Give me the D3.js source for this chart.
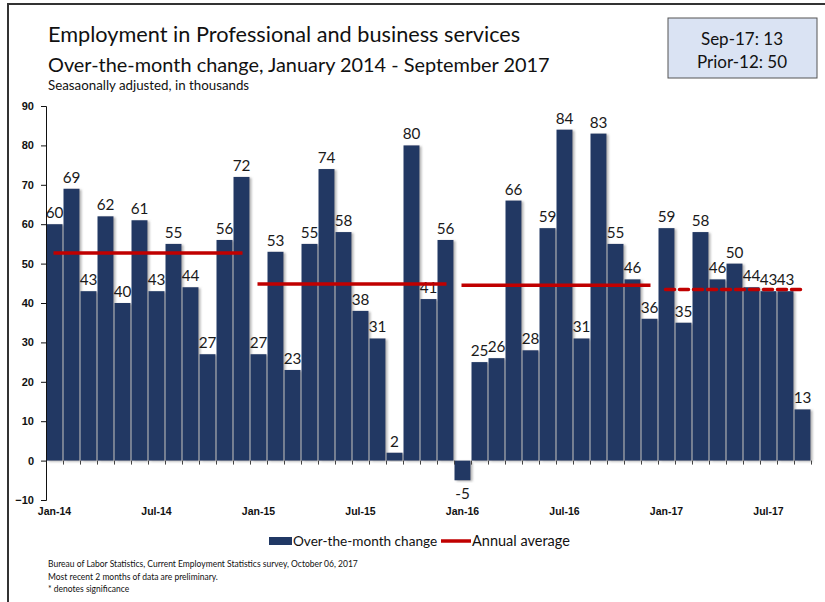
<!DOCTYPE html>
<html>
<head>
<meta charset="utf-8">
<script src="https://cdn.jsdelivr.net/npm/d3@7/dist/d3.min.js"></script>
<style>
  body { margin: 0; background: #fff; }
  svg { font-family: Lato, "Open Sans", sans-serif; }
</style>
</head>
<body>
<div id="chart"></div>
<script>
let months = [
  'Jan-14','Feb-14','Mar-14','Apr-14','May-14','Jun-14','Jul-14','Aug-14','Sep-14','Oct-14','Nov-14','Dec-14',
  'Jan-15','Feb-15','Mar-15','Apr-15','May-15','Jun-15','Jul-15','Aug-15','Sep-15','Oct-15','Nov-15','Dec-15',
  'Jan-16','Feb-16','Mar-16','Apr-16','May-16','Jun-16','Jul-16','Aug-16','Sep-16','Oct-16','Nov-16','Dec-16',
  'Jan-17','Feb-17','Mar-17','Apr-17','May-17','Jun-17','Jul-17','Aug-17','Sep-17'
];
let changes = [
  60, 69, 43, 62, 40, 61, 43, 55, 44, 27, 56, 72,
  27, 53, 23, 55, 74, 58, 38, 31, 2, 80, 41, 56,
  -5, 25, 26, 66, 28, 59, 84, 31, 83, 55, 46, 36,
  59, 35, 58, 46, 50, 44, 43, 43, 13
];
// annual averages: first month, last month, value
let avgStart = ['Jan-14', 'Jan-15', 'Jan-16', 'Jan-17'];
let avgEnd = ['Dec-14', 'Dec-15', 'Dec-16', 'Sep-17'];
let avgValues = [52.7, 44.8, 44.5, 43.4];
let xTickLabels = ['Jan-14','Jul-14','Jan-15','Jul-15','Jan-16','Jul-16','Jan-17','Jul-17'];
let yTicks = [-10, 0, 10, 20, 30, 40, 50, 60, 70, 80, 90];

let W = 825, H = 602;
let mLeft = 46, mRight = 811, mTop = 106, mBottom = 500;

let svg = d3.select('#chart').append('svg')
  .attr('width', W)
  .attr('height', H);

let defs = svg.append('defs');
let f = defs.append('filter').attr('id', 'shadow')
  .attr('x', '-20%').attr('y', '-5%').attr('width', '160%').attr('height', '115%');
f.append('feDropShadow')
  .attr('dx', 2).attr('dy', 1).attr('stdDeviation', 1)
  .attr('flood-color', '#777').attr('flood-opacity', 0.55);

// outer frame
svg.append('rect')
  .attr('x', 8).attr('y', 4)
  .attr('width', W + 20).attr('height', H + 20)
  .attr('fill', 'none').attr('stroke', '#333').attr('stroke-width', 2);

// titles
svg.append('text').attr('x', 48).attr('y', 42)
  .style('font-size', '21.7px').attr('fill', '#111')
  .text('Employment in Professional and business services');
svg.append('text').attr('x', 48).attr('y', 72)
  .style('font-size', '19.9px').attr('fill', '#111')
  .text('Over-the-month change, January 2014 - September 2017');
svg.append('text').attr('x', 48).attr('y', 90)
  .style('font-size', '13.3px').attr('fill', '#111')
  .text('Seasaonally adjusted, in thousands');

// info box
svg.append('rect')
  .attr('x', 668).attr('y', 18).attr('width', 149).attr('height', 60)
  .attr('fill', '#dae3f3').attr('stroke', '#555').attr('stroke-width', 1);
svg.append('text').attr('x', 742).attr('y', 45).attr('text-anchor', 'middle')
  .style('font-size', '17px').attr('fill', '#111').text('Sep-17: 13');
svg.append('text').attr('x', 742).attr('y', 68).attr('text-anchor', 'middle')
  .style('font-size', '17px').attr('fill', '#111').text('Prior-12: 50');

// scales
let xScale = d3.scaleBand()
  .domain(months)
  .range([mLeft, mRight])
  .paddingInner(0.06)
  .paddingOuter(0.03);

let yScale = d3.scaleLinear()
  .domain([-10, 90])
  .range([mBottom, mTop]);

// bars
svg.append('g')
  .selectAll('rect')
  .data(changes)
  .enter().append('rect')
  .attr('class', 'bar')
  .attr('x', (d, i) => xScale(months[i]))
  .attr('width', xScale.bandwidth())
  .attr('y', d => yScale(Math.max(d, 0)))
  .attr('height', d => Math.abs(yScale(d) - yScale(0)))
  .attr('fill', '#203864')
  .attr('filter', 'url(#shadow)');

// value labels
svg.append('g')
  .selectAll('text')
  .data(changes)
  .enter().append('text')
  .attr('x', (d, i) => xScale(months[i]) + xScale.bandwidth() / 2)
  .attr('y', d => d < 0 ? yScale(d) + 19 : yScale(d) - 6)
  .attr('text-anchor', 'middle')
  .style('font-size', '15.3px')
  .attr('fill', '#1a1a1a')
  .text(d => d);

// annual average lines
svg.append('g')
  .selectAll('line')
  .data(avgValues)
  .enter().append('line')
  .attr('x1', (d, i) => xScale(avgStart[i]) + xScale.bandwidth() / 2 - 1)
  .attr('x2', (d, i) => xScale(avgEnd[i]) + xScale.bandwidth() / 2 + 1)
  .attr('y1', d => yScale(d))
  .attr('y2', d => yScale(d))
  .attr('stroke', '#c00000')
  .attr('stroke-width', 3.5)
  .attr('stroke-dasharray', (d, i) => i == 3 ? '9,5' : null)
  .attr('stroke-linecap', (d, i) => i == 3 ? 'round' : 'butt');

// y axis
let yAxis = d3.axisLeft(yScale).tickValues(yTicks).tickSize(5).tickPadding(7);
let gy = svg.append('g')
  .attr('id', 'y-axis')
  .attr('transform', `translate(${mLeft}, 0)`)
  .call(yAxis);
gy.selectAll('text').style('font-size', '11px').style('font-weight', 'bold').attr('fill', '#111');
gy.selectAll('line, path').attr('stroke', '#111');

// zero line with month boundary ticks
let idxScale = d3.scaleLinear().domain([0, months.length]).range([mLeft, mRight]);
let gz = svg.append('g')
  .attr('transform', `translate(0, ${yScale(0)})`)
  .call(d3.axisBottom(idxScale).tickValues(d3.range(1, months.length + 1))
    .tickFormat('').tickSizeInner(4).tickSizeOuter(0));
gz.select('path').attr('stroke', '#666').attr('stroke-width', 2).attr('filter', 'url(#shadow)');
gz.selectAll('line').attr('stroke', '#444');

// x labels
let xAxis = d3.axisBottom(xScale).tickValues(xTickLabels).tickSize(0).tickPadding(8);
let gx = svg.append('g')
  .attr('id', 'x-axis')
  .attr('transform', `translate(0, ${mBottom})`)
  .call(xAxis);
gx.select('path').remove();
gx.selectAll('text').style('font-size', '10.5px').style('font-weight', 'bold').attr('fill', '#111');

// legend
let lg = svg.append('g').attr('transform', 'translate(269, 541)');
lg.append('rect').attr('x', 0).attr('y', -4).attr('width', 23).attr('height', 8).attr('fill', '#203864');
lg.append('text').attr('x', 24).attr('y', 5).style('font-size', '13.6px').attr('fill', '#111').text('Over-the-month change');
lg.append('line').attr('x1', 172).attr('x2', 202).attr('y1', 0).attr('y2', 0)
  .attr('stroke', '#c00000').attr('stroke-width', 3.5);
lg.append('text').attr('x', 203).attr('y', 5).style('font-size', '14.5px').attr('fill', '#111').text('Annual average');

// footnotes
let notes = [
  'Bureau of Labor Statistics, Current Employment Statistics survey, October 06, 2017',
  'Most recent 2 months of data are preliminary.',
  '* denotes significance'
];
svg.append('g').selectAll('text')
  .data(notes)
  .enter().append('text')
  .attr('x', 48)
  .attr('y', (d, i) => 567 + i * 12.5)
  .style('font-size', '8.5px')
  .attr('fill', '#111')
  .text(d => d);
</script>
</body>
</html>
